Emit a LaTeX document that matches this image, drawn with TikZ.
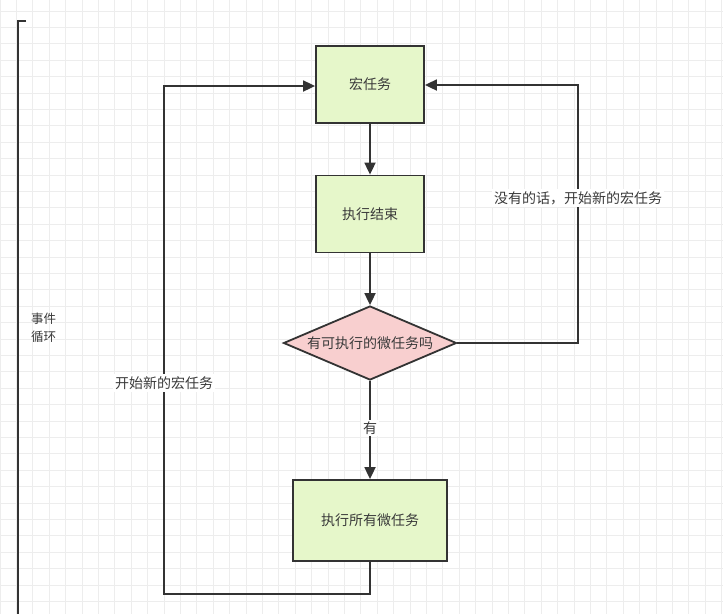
\documentclass[tikz,border=0pt]{standalone}
\usepackage{fontspec}
\setmainfont{Noto Sans CJK SC}
\usetikzlibrary{arrows.meta,shapes.geometric}
\definecolor{boxgreen}{HTML}{E6F7CA}
\definecolor{diapink}{HTML}{F8CFCF}
\definecolor{edge}{HTML}{333333}
\definecolor{txt}{HTML}{3A3A3A}
\definecolor{gridc}{HTML}{EDEDED}
\begin{document}
\begin{tikzpicture}[x=1pt,y=-1pt,
  every node/.style={font=\fontsize{14}{16}\selectfont, text=txt},
  procbox/.style={draw=edge, line width=1.8pt, fill=boxgreen, minimum width=108pt, minimum height=77pt, inner sep=0pt},
  decision/.style={diamond, aspect=2.35, draw=edge, line width=1.8pt, fill=diapink, inner sep=0pt, minimum width=173pt, minimum height=74pt},
  conn/.style={draw=edge, line width=1.8pt},
  arr/.style={conn, -{Triangle[length=12pt,width=11pt]}},
  lbl/.style={fill=white, inner sep=2pt}]
\useasboundingbox (0,0) rectangle (723,614);
\fill[white] (0,0) rectangle (723,614);
\foreach \i in {0,...,44} {\draw[gridc, line width=0.7pt] (\i*16.4,0) -- (\i*16.4,614);}
\foreach \j in {0,...,37} {\draw[gridc, line width=0.7pt] (0,11+\j*16.4-16.4) -- (723,11+\j*16.4-16.4);}
% bracket
\coordinate (bt) at (26,21);
\coordinate (bc) at (18,21);
\coordinate (bb) at (18,614);
\draw[conn, line width=1.5pt] (bt) -- (bc) -- (bb);
\node[anchor=north west, align=left, inner sep=0pt, font=\fontsize{12.5}{18}\selectfont] (loop) at (31,313) {事件\\循环};
% nodes
\node[procbox] (macro) at (370,84.5) {宏任务};
\node[procbox] (done) at (370,214) {执行结束};
\node[decision] (dec) at (370,343) {有可执行的微任务吗};
\node[procbox, minimum width=154pt, minimum height=81pt] (micro) at (370,520.5) {执行所有微任务};
% vertical flow
\draw[arr] (macro) -- (done);
\draw[arr] (done) -- (dec.north);
\draw[arr] (dec.south) -- node[lbl, pos=0.48] (yes) {有} (micro.north);
% left loop
\coordinate (lb) at (370,594);
\coordinate (lc) at (164,594);
\coordinate (lt) at (164,86);
\draw[arr] (micro.south) -- (lb) -- (lc) -- (lt) -- (macro.west |- lt);
\node[lbl] (lefttext) at (164,383) {开始新的宏任务};
% right loop
\coordinate (rb) at (578,343);
\coordinate (rt) at (578,85);
\draw[arr] (dec.east) -- (rb) -- (rt) -- (macro.east |- rt);
\node[lbl] (righttext) at (578,198) {没有的话，开始新的宏任务};
\end{tikzpicture}
\end{document}
